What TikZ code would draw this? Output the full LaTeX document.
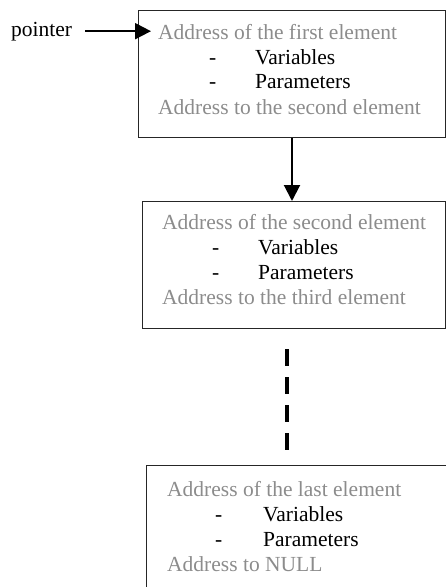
\documentclass[tikz,border=0pt]{standalone}
\usepackage{fontspec}
\setmainfont{Liberation Serif}
\usetikzlibrary{positioning, arrows.meta}

\begin{document}
\begin{tikzpicture}[
  x=1pt, y=-1pt,
  font=\fontsize{21.5}{24}\selectfont,
  elem/.style={draw=black!85, line width=1pt, minimum width=303, minimum height=127, anchor=north west, inner sep=0pt},
  addr/.style={text=black!45, anchor=base west, inner sep=0pt},
  field/.style={text=black, anchor=base west, inner sep=0pt},
  arr/.style={-{Triangle[length=16pt, width=16pt]}, line width=2pt},
  gap/.style={line width=4pt, dash pattern=on 17pt off 11pt}
]
\useasboundingbox (0,0) rectangle (446,587);
\clip (0,0) rectangle (446,587);

% --- first element ---
\node[elem, minimum width=307] (first) at (138,10) {};
\node[addr]  (addr1) at (158,39)  {Address of the first element};
\node[field] (dashA1) at (209,64) {-};
\node[field] (var1)  at (255,64)  {Variables};
\node[field] (dashB1) at (209,88) {-};
\node[field] (par1)  at (255,88)  {Parameters};
\node[addr]  (next1) at (158,114) {Address to the second element};

% --- pointer ---
\node[anchor=base west, inner sep=0pt] (ptr) at (11,36) {pointer};
\draw[arr, shorten <=13pt, shorten >=7pt] (ptr.east) -- (ptr.east -| addr1.west);

% --- second element ---
\node[elem] (second) at (142,201) {};
\node[addr]  (addr2) at (162,229) {Address of the second element};
\node[field] (dashA2) at (212,254) {-};
\node[field] (var2)  at (258,254) {Variables};
\node[field] (dashB2) at (212,279) {-};
\node[field] (par2)  at (258,279) {Parameters};
\node[addr]  (next2) at (162,304) {Address to the third element};

\draw[arr] (first.south) -- (first.south |- second.north);

% --- last element ---
\node[elem] (last) at (146,465) {};
\node[addr]  (addr3) at (167,496) {Address of the last element};
\node[field] (dashA3) at (215,521) {-};
\node[field] (var3)  at (263,521) {Variables};
\node[field] (dashB3) at (215,546) {-};
\node[field] (par3)  at (263,546) {Parameters};
\node[addr]  (next3) at (167,571) {Address to NULL};

% elements in between are left out
\draw[gap] ([xshift=-7.5pt, yshift=-20pt]second.south) -- ([xshift=-7.5pt, yshift=15pt]second.south |- last.north);
\end{tikzpicture}
\end{document}
